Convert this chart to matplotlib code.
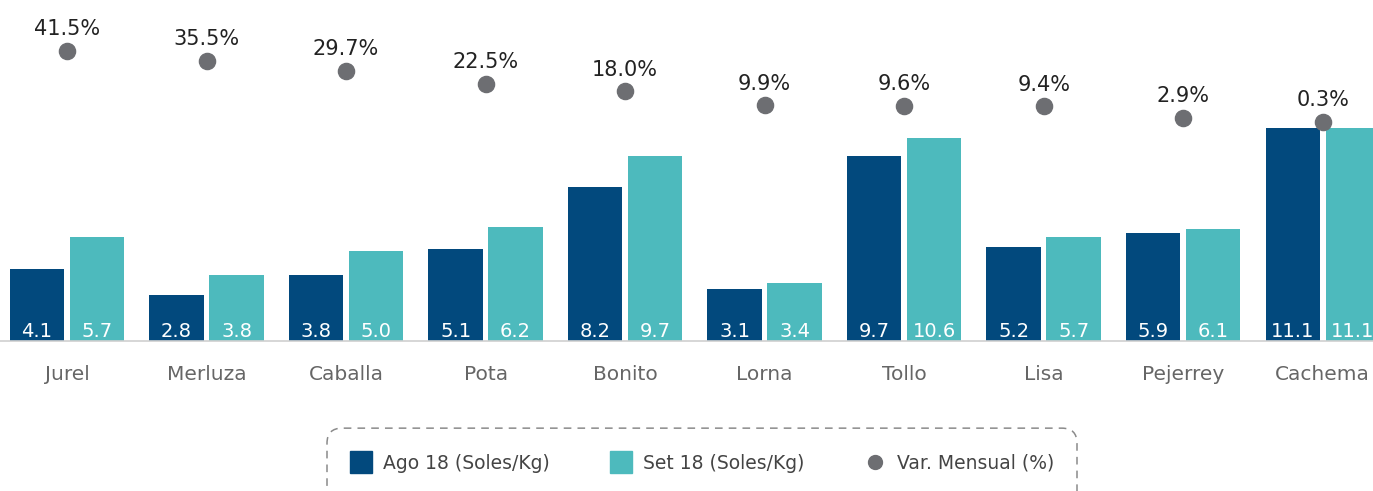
import numpy as np
from matplotlib import pyplot as plt
from matplotlib.patches import FancyBboxPatch
from matplotlib.lines import Line2D

especies = ['Jurel', 'Merluza', 'Caballa', 'Pota', 'Bonito', 'Lorna',
            'Tollo', 'Lisa', 'Pejerrey', 'Cachema']
ago_18 = [4.1, 2.8, 3.8, 5.1, 8.2, 3.1, 9.7, 5.2, 5.9, 11.1]
set_18 = [5.7, 3.8, 5.0, 6.2, 9.7, 3.4, 10.6, 5.7, 6.1, 11.1]
var_mensual = [41.5, 35.5, 29.7, 22.5, 18.0, 9.9, 9.6, 9.4, 2.9, 0.3]

C_AGO = '#02497d'
C_SET = '#4dbabd'
C_DOT = '#6d6e72'

plt.rcParams['font.family'] = ['DejaVu Sans']

fig = plt.figure(figsize=(13.73, 4.91), dpi=100)
ax = fig.add_axes([0, 0.3055, 1, 0.6945])
x = np.arange(len(especies))
w = 0.39
off = 0.215

b1 = ax.bar(x - off, ago_18, w, color=C_AGO, zorder=2)
b2 = ax.bar(x + off, set_18, w, color=C_SET, zorder=2)
for bars, vals in ((b1, ago_18), (b2, set_18)):
    for r, v in zip(bars, vals):
        ax.annotate(f'{v:.1f}', (r.get_x() + r.get_width() / 2, 0.5),
                    xytext=(0, 2.9), textcoords='offset points',
                    ha='center', va='baseline', color='white', fontsize=14)

ax.set_xlim(-0.48, 9.36)
ax.set_ylim(0.5, 17.5)
ax.set_xticks(x)
ax.set_xticklabels(especies, fontsize=14.5, color='#666666')
ax.tick_params(axis='x', length=0, pad=17)
ax.set_yticks([])
for s in ('top', 'left', 'right'):
    ax.spines[s].set_visible(False)
ax.spines['bottom'].set_color('#d0d0d0')
ax.spines['bottom'].set_linewidth(1.2)
ax.patch.set_alpha(0)

ax2 = ax.twinx()
ax2.set_ylim(-126.3, 70.9)
ax2.scatter(x, var_mensual, s=135, color=C_DOT, zorder=3, clip_on=False)
for xi, v in zip(x, var_mensual):
    ax2.annotate(f'{v:.1f}%', (xi, v), xytext=(0, 8.5), textcoords='offset points',
                 ha='center', va='bottom', color='#222222', fontsize=15)
ax2.set_yticks([])
for s in ax2.spines.values():
    s.set_visible(False)

handles = [
    Line2D([], [], ls='none', marker='s', markersize=16, color=C_AGO),
    Line2D([], [], ls='none', marker='s', markersize=16, color=C_SET),
    Line2D([], [], ls='none', marker='o', markersize=10, color=C_DOT),
]
labels = ['Ago 18 (Soles/Kg)', 'Set 18 (Soles/Kg)', 'Var. Mensual (%)']
fig.legend(handles, labels, loc='center', bbox_to_anchor=(0.512, 0.057),
           ncol=3, frameon=False, fontsize=13.5, handlelength=1.0,
           handletextpad=0.65, columnspacing=3.3, labelcolor='#444444')

box = FancyBboxPatch((327 / 1373, -0.05), 750 / 1373, 0.178,
                     boxstyle='round,pad=0,rounding_size=0.011',
                     transform=fig.transFigure, fill=False,
                     edgecolor='#8a8a8a', linestyle=(0, (5, 4)), linewidth=1.1,
                     mutation_aspect=1373 / 491)
fig.patches.append(box)

fig.savefig('out.png', dpi=100)
